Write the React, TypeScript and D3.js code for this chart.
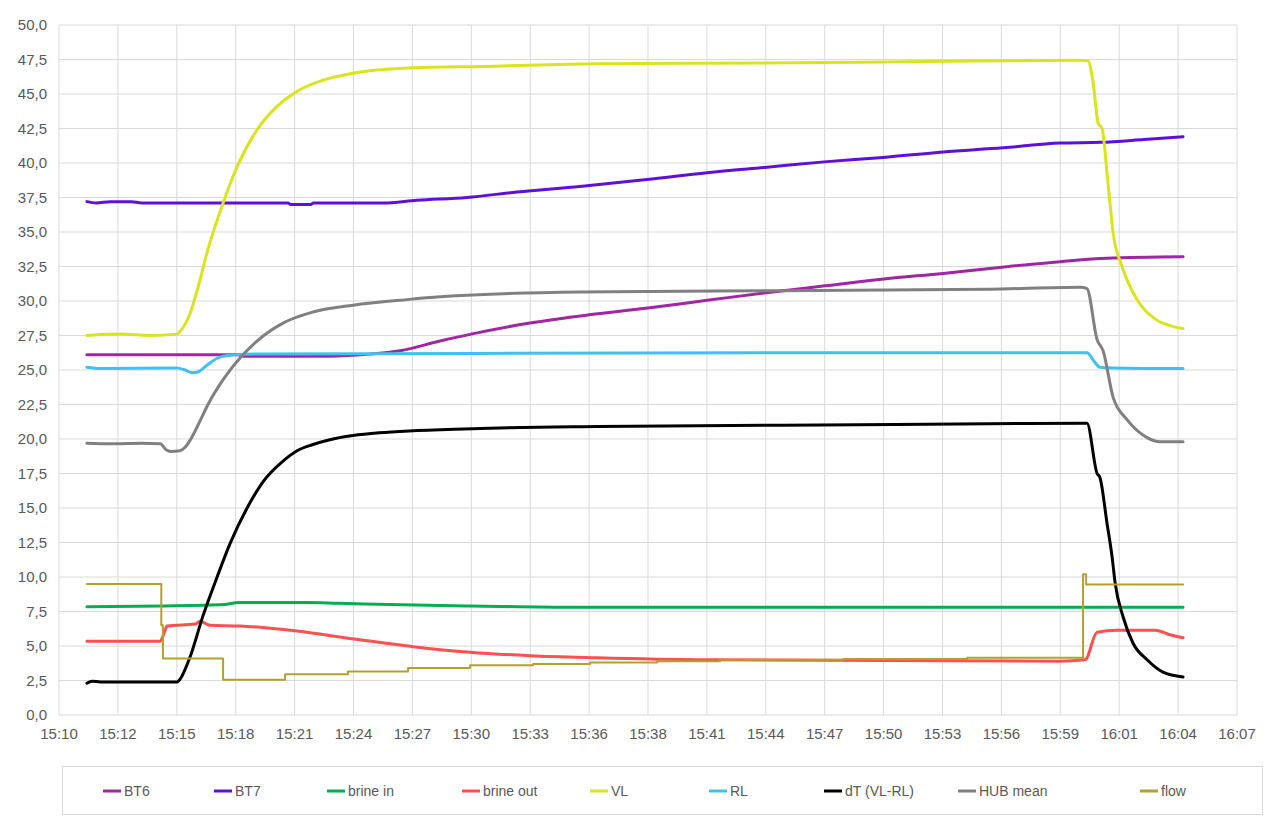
import React from "react";
import * as d3 from "d3";

// time in minutes after 15:10, value in °C / l/min
const timeTickLabels = ["15:10","15:12","15:15","15:18","15:21","15:24","15:27","15:30","15:33","15:36","15:38","15:41","15:44","15:47","15:50","15:53","15:56","15:59","16:01","16:04","16:07"];
const axisSpanMinutes = 57;

const bt6: [number, number][] = [[1.35,26.1],[8.7,26.1],[8.8,26.0],[13.1,26.0],[15.0,26.15],[16.5,26.4],[18.44,27.1],[19.94,27.6],[22.79,28.4],[25.65,29.0],[28.5,29.5],[31.36,30.05],[34.21,30.6],[37.07,31.1],[39.92,31.6],[42.78,32.0],[45.63,32.45],[48.44,32.85],[50.71,33.1],[54.39,33.2]];
const bt7: [number, number][] = [[1.35,37.2],[1.8,37.1],[2.5,37.2],[3.5,37.2],[4.0,37.1],[11.08,37.1],[11.2,37.0],[12.2,37.0],[12.3,37.1],[15.68,37.1],[17.32,37.3],[19.74,37.5],[22.16,37.9],[25.2,38.3],[28.45,38.8],[31.36,39.3],[34.26,39.7],[37.16,40.1],[39.87,40.4],[42.78,40.8],[45.68,41.1],[48.44,41.45],[50.4,41.5],[52.5,41.7],[54.39,41.9]];
const brineIn: [number, number][] = [[1.35,7.85],[5.0,7.9],[8.0,8.0],[8.7,8.15],[12.0,8.15],[13.5,8.1],[16.0,8.0],[20.0,7.9],[25.0,7.8],[54.39,7.8]];
const brineOut: [number, number][] = [[1.35,5.35],[4.9,5.35],[5.1,6.0],[5.23,6.45],[6.6,6.6],[6.82,6.8],[7.31,6.5],[8.76,6.45],[11.42,6.1],[14.28,5.5],[17.13,4.95],[19.89,4.55],[22.79,4.3],[26.03,4.15],[31.36,4.0],[40.0,3.95],[48.44,3.9],[49.65,4.0],[50.23,6.0],[51.2,6.15],[53.04,6.15],[53.8,5.8],[54.39,5.6]];
const vl: [number, number][] = [[1.35,27.5],[3.0,27.6],[4.4,27.5],[5.71,27.6],[5.86,27.8],[6.34,29.1],[6.82,31.5],[7.16,33.5],[7.94,37.1],[8.61,39.7],[9.58,42.4],[10.55,44.1],[11.42,45.1],[12.78,46.0],[14.23,46.5],[17.13,46.9],[20.52,47.0],[26.03,47.2],[34.0,47.25],[42.0,47.35],[49.41,47.45],[49.79,47.4],[50.04,45.8],[50.28,42.9],[50.47,42.5],[50.76,38.5],[51.01,34.9],[51.44,32.5],[52.16,30.1],[53.13,28.6],[53.8,28.2],[54.39,28.0]];
const rl: [number, number][] = [[1.35,25.2],[2.0,25.1],[5.71,25.15],[6.1,25.0],[6.45,24.8],[6.7,24.85],[7.2,25.4],[7.65,25.85],[8.13,26.05],[9.0,26.15],[20.0,26.2],[35.0,26.25],[49.74,26.25],[50.1,25.6],[50.37,25.2],[51.0,25.15],[54.39,25.1]];
const dT: [number, number][] = [[1.35,2.3],[1.6,2.45],[2.0,2.4],[5.71,2.4],[5.86,2.6],[6.34,4.2],[6.97,7.2],[7.65,10.0],[8.27,12.4],[9.10,15.0],[9.87,16.9],[10.84,18.4],[11.52,19.15],[12.29,19.6],[13.1,19.95],[14.23,20.25],[15.5,20.45],[17.13,20.6],[20.0,20.75],[26.03,20.9],[35.0,21.0],[45.0,21.1],[49.74,21.15],[50.23,17.5],[50.37,17.2],[50.71,13.9],[50.96,11.4],[51.10,9.6],[51.49,7.1],[51.97,5.2],[52.65,4.0],[53.42,3.1],[54.39,2.75]];
const hubMean: [number, number][] = [[1.35,19.7],[2.5,19.65],[4.0,19.7],[4.9,19.65],[5.2,19.2],[5.4,19.1],[5.86,19.15],[6.1,19.4],[6.34,19.9],[6.82,21.3],[7.21,22.5],[7.94,24.3],[8.90,26.1],[9.58,27.1],[10.84,28.4],[12.29,29.2],[14.23,29.7],[16.84,30.1],[18.44,30.3],[25.2,30.65],[35.0,30.75],[45.0,30.85],[49.41,31.0],[49.74,30.9],[50.23,27.2],[50.52,26.4],[51.01,23.0],[51.68,21.4],[52.65,20.1],[53.28,19.8],[54.39,19.8]];
const flow: [number, number][] = [[1.35,9.5],[4.95,6.5],[5.03,4.1],[7.94,2.55],[10.94,2.95],[13.98,3.15],[16.89,3.4],[19.89,3.6],[22.94,3.7],[25.70,3.8],[28.94,3.9],[31.99,4.0],[37.94,4.05],[43.94,4.15],[49.55,10.2],[49.70,9.45],[54.39,9.45]];

const seriesNames = ["BT6","BT7","brine in","brine out","VL","RL","dT (VL-RL)","HUB mean","flow"];
const seriesData = [bt6, bt7, brineIn, brineOut, vl, rl, dT, hubMean, flow];
const seriesColors = ["#a126a3","#5f10d8","#00b050","#ff4f4f","#d9e41f","#40c0f0","#000000","#808080","#b5a02e"];

const W = 1280, H = 831;
const M = { left: 59, right: 1237, top: 25, bottom: 715 };
const legendX = [103, 214, 327, 462, 590, 709, 824, 958, 1140];

export default function App() {
  const x = d3.scaleLinear().domain([0, axisSpanMinutes]).range([M.left, M.right]);
  const y = d3.scaleLinear().domain([0, 50]).range([M.bottom, M.top]);
  const yTicks = d3.range(0, 50.001, 2.5);
  const xTicks = timeTickLabels.map((l, i) => ({ l, v: (i * axisSpanMinutes) / (timeTickLabels.length - 1) }));
  const line = d3.line<[number, number]>().x(d => x(d[0])).y(d => y(d[1])).curve(d3.curveMonotoneX);
  const stepLine = d3.line<[number, number]>().x(d => x(d[0])).y(d => y(d[1])).curve(d3.curveStepAfter);
  const font = "'Liberation Sans', Arial, sans-serif";
  return (
    <svg width={W} height={H} style={{ position: "absolute", left: 0, top: 0, background: "#fff" }} fontFamily={font}>
      <rect x={0} y={0} width={W} height={H} fill="#fff" />
      {yTicks.map(t => (
        <g key={"y" + t}>
          <line x1={M.left} x2={M.right} y1={y(t)} y2={y(t)} stroke="#d9d9d9" strokeWidth={1} />
          <text x={47} y={y(t)} dy="0.36em" textAnchor="end" fontSize={15} fill="#595959">{t.toFixed(1).replace(".", ",")}</text>
        </g>
      ))}
      {xTicks.map(t => (
        <g key={"x" + t.l + t.v}>
          <line x1={x(t.v)} x2={x(t.v)} y1={M.top} y2={M.bottom} stroke="#d9d9d9" strokeWidth={1} />
          <text x={x(t.v)} y={739} textAnchor="middle" fontSize={15} fill="#595959">{t.l}</text>
        </g>
      ))}
      {seriesData.map((d, i) => (
        <path key={seriesNames[i]} d={(i === 8 ? stepLine : line)(d) || ""} fill="none" stroke={seriesColors[i]} strokeWidth={i === 8 ? 2 : 3} strokeLinejoin="round" strokeLinecap="round" />
      ))}
      <rect x={62.5} y={766.5} width={1200} height={48} fill="#fff" stroke="#d9d9d9" strokeWidth={1} />
      {seriesNames.map((n, i) => (
        <g key={"lg" + n}>
          <line x1={legendX[i]} x2={legendX[i] + 18} y1={791} y2={791} stroke={seriesColors[i]} strokeWidth={3} />
          <text x={legendX[i] + 21} y={791} dy="0.36em" fontSize={14} fill="#595959">{n}</text>
        </g>
      ))}
    </svg>
  );
}
